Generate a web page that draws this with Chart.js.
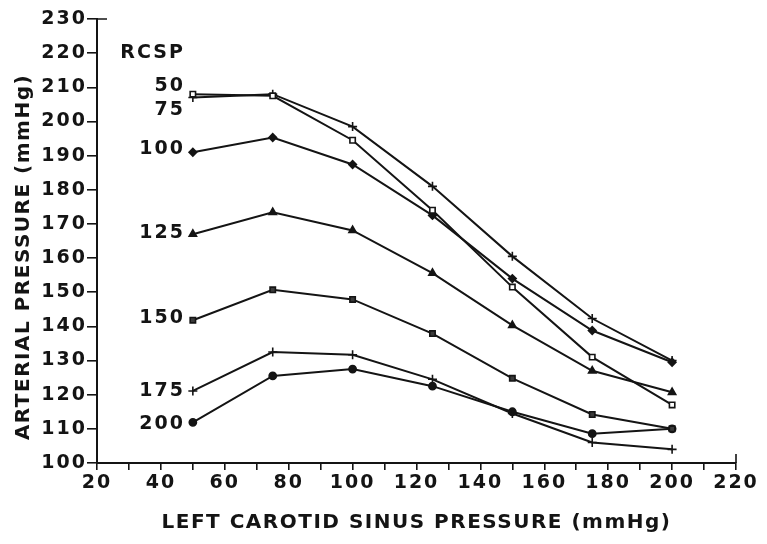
<!DOCTYPE html>
<html>
<head>
<meta charset="utf-8">
<script src="https://cdn.jsdelivr.net/npm/chart.js@4.4.0/dist/chart.umd.min.js"></script>
<style>
    html, body { margin: 0; padding: 0; background: #fff; }
</style>
</head>
<body>
<canvas id="chart" width="767" height="544"></canvas>
<script>
// left carotid sinus pressure, mmHg (x of every point)
var lcsp = [50, 75, 100, 125, 150, 175, 200];
// right carotid sinus pressure, one curve per level
var rcsp = ['50', '75', '100', '125', '150', '175', '200'];
// arterial pressure, mmHg
var ap50  = [208, 207.5, 194.5, 174, 151.5, 131, 117];
var ap75  = [207, 208, 198.5, 181, 160.5, 142.3, 130];
var ap100 = [191, 195.3, 187.4, 172.5, 154, 138.8, 129.5];
var ap125 = [167, 173.4, 168.1, 155.6, 140.3, 127, 120.7];
var ap150 = [141.8, 150.7, 147.9, 137.9, 124.8, 114.2, 110];
var ap175 = [121.1, 132.5, 131.7, 124.5, 114.5, 106, 104];
var ap200 = [111.9, 125.5, 127.5, 122.5, 115, 108.6, 110];
// labelled ticks
var xTickLabels = [20, 40, 60, 80, 100, 120, 140, 160, 180, 200, 220];
var yTickLabels = [100, 110, 120, 130, 140, 150, 160, 170, 180, 190, 200, 210, 220, 230];

const INK = '#141414';
const FONT = '"DejaVu Sans", sans-serif';

function pairs(values) {
    return values.map(function (v, i) { return { x: lcsp[i], y: v }; });
}

function series(label, values, style, fill, radius) {
    return {
        label: label,
        data: pairs(values),
        borderColor: INK,
        borderWidth: 2,
        pointStyle: style,
        pointRadius: radius,
        pointBorderColor: INK,
        pointBorderWidth: 1.6,
        pointBackgroundColor: fill,
        tension: 0,
        fill: false
    };
}

// curve names, RCSP header, axis titles and the two end marks of the axes
const paperText = {
    id: 'paperText',
    beforeDraw: function (chart) {
        chart.ctx.letterSpacing = '2px';
    },
    afterDraw: function (chart) {
        const ctx = chart.ctx;
        const xs = chart.scales.x;
        const ys = chart.scales.y;
        const area = chart.chartArea;
        const nudge = [-8, 13, -3, -1, -2, 0, 2];

        ctx.save();
        ctx.fillStyle = INK;
        ctx.letterSpacing = '2px';
        ctx.font = 'bold 19px ' + FONT;
        ctx.textAlign = 'right';
        ctx.textBaseline = 'middle';
        chart.data.datasets.forEach(function (ds, i) {
            const p = ds.data[0];
            ctx.fillText(ds.label, xs.getPixelForValue(p.x) - 8, ys.getPixelForValue(p.y) + nudge[i]);
        });
        ctx.fillText('RCSP', xs.getPixelForValue(lcsp[0]) - 8, ys.getPixelForValue(220));

        ctx.letterSpacing = '1.5px';
        ctx.font = 'bold 20px ' + FONT;
        ctx.textAlign = 'center';
        ctx.fillText('LEFT CAROTID SINUS PRESSURE (mmHg)', (area.left + area.right) / 2, 523);

        ctx.translate(24, 257);
        ctx.rotate(-Math.PI / 2);
        ctx.fillText('ARTERIAL PRESSURE (mmHg)', 0, 0);
        ctx.restore();

        ctx.save();
        ctx.strokeStyle = INK;
        ctx.lineWidth = 1.6;
        ctx.beginPath();
        ctx.moveTo(area.left, ys.getPixelForValue(230));
        ctx.lineTo(area.left + 10, ys.getPixelForValue(230));
        ctx.moveTo(xs.getPixelForValue(220), area.bottom);
        ctx.lineTo(xs.getPixelForValue(220), area.bottom - 9);
        ctx.stroke();
        ctx.restore();
    }
};

const config = {
    type: 'line',
    data: {
        datasets: [
            series(rcsp[0], ap50, 'rect', '#ffffff', 3.8),
            series(rcsp[1], ap75, 'cross', INK, 4.5),
            series(rcsp[2], ap100, 'rectRot', INK, 3.8),
            series(rcsp[3], ap125, 'triangle', INK, 4.2),
            series(rcsp[4], ap150, 'rect', '#3a3a3a', 3.8),
            series(rcsp[5], ap175, 'cross', INK, 4.5),
            series(rcsp[6], ap200, 'circle', INK, 3.6)
        ]
    },
    options: {
        responsive: false,
        animation: false,
        layout: { padding: { top: 19, right: 31, left: 0, bottom: 0 } },
        plugins: {
            legend: { display: false },
            tooltip: { enabled: false }
        },
        scales: {
            x: {
                type: 'linear',
                min: 20,
                max: 220,
                afterFit: function (scale) { scale.height = 81; },
                border: { color: INK, width: 2 },
                grid: { drawOnChartArea: false, color: INK, lineWidth: 1.6, tickLength: 7 },
                ticks: {
                    stepSize: 10,
                    autoSkip: false,
                    maxRotation: 0,
                    padding: 2,
                    color: INK,
                    font: { family: FONT, weight: 'bold', size: 19 },
                    callback: function (v) { return xTickLabels.indexOf(v) >= 0 ? String(v) : ''; }
                }
            },
            y: {
                min: 100,
                max: 230,
                afterFit: function (scale) { scale.width = 97; },
                border: { color: INK, width: 2 },
                grid: { drawOnChartArea: false, color: INK, lineWidth: 1.6, tickLength: 10 },
                ticks: {
                    stepSize: 10,
                    autoSkip: false,
                    padding: 0,
                    color: INK,
                    font: { family: FONT, weight: 'bold', size: 19 },
                    callback: function (v) { return yTickLabels.indexOf(v) >= 0 ? String(v) : ''; }
                }
            }
        }
    },
    plugins: [paperText]
};

const ctx = document.getElementById('chart').getContext('2d');
const chart = new Chart(ctx, config);
</script>
</body>
</html>
